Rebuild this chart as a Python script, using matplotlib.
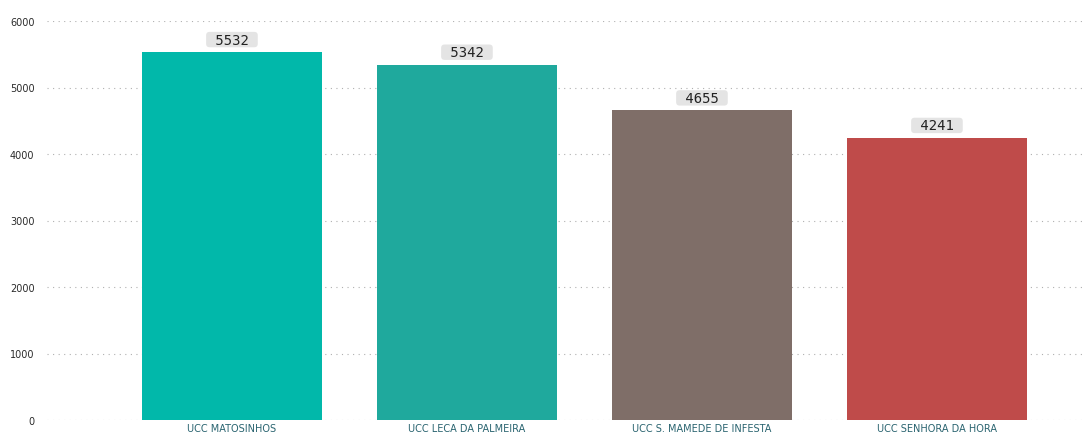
import matplotlib
matplotlib.use("Agg")
from matplotlib import pyplot as plt

categories = ["UCC MATOSINHOS", "UCC LECA DA PALMEIRA", "UCC S. MAMEDE DE INFESTA", "UCC SENHORA DA HORA"]
values = [5532, 5342, 4655, 4241]
colors = ["#01B8AA", "#1FA99D", "#7F6E68", "#BF4B4A"]
yticks = [0, 1000, 2000, 3000, 4000, 5000, 6000]

fig = plt.figure(figsize=(10.88, 4.35), dpi=100)
ax = fig.add_axes([47 / 1088, 1 - 421 / 435, 1038 / 1088, 399 / 435])

x = list(range(len(categories)))
ax.bar(x, values, width=0.766, color=colors, zorder=2)

# value labels in light grey boxes
for xi, v in zip(x, values):
    ax.annotate(f" {v} ", (xi, v), xytext=(0, 4), textcoords="offset points",
                ha="center", va="bottom", fontsize=10, color="#222222",
                family="DejaVu Sans Mono",
                bbox=dict(boxstyle="round,pad=0.05,rounding_size=0.25", fc="#e4e4e4", ec="none"))

ax.set_xlim(-0.787, 3.63)
ax.set_ylim(0, 6000)
ax.set_yticks(yticks)
ax.set_yticklabels([str(t) for t in yticks], fontsize=7, color="#2b2b2b",
                   family="DejaVu Sans")
ax.set_xticks(x)
ax.set_xticklabels(categories, fontsize=7, color="#2a6470",
                   family="DejaVu Sans")
ax.tick_params(axis="both", length=0)
ax.tick_params(axis="y", pad=9)
ax.tick_params(axis="x", pad=2.5)
ax.grid(axis="y", linestyle=(0, (1, 4)), color="#b0b0b0", linewidth=0.8, zorder=0)
for s in ax.spines.values():
    s.set_visible(False)

plt.savefig("out.png")
plt.close(fig)
